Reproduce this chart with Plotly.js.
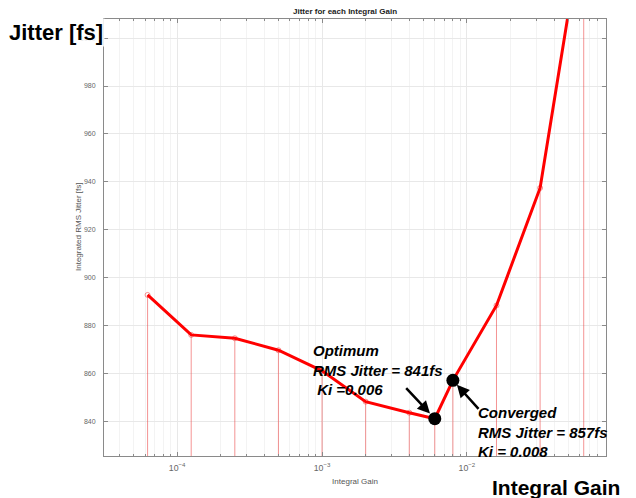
<!DOCTYPE html>
<html>
<head>
<meta charset="utf-8">
<script src="https://cdn.plot.ly/plotly-3.0.1.min.js"></script>
<style>html,body{margin:0;padding:0;background:#fff;}#chart{width:636px;height:498px;}</style>
</head>
<body>
<div id="chart"></div>
<script>
// ---- data ----
var integralGain = [6.25e-5, 1.25e-4, 2.5e-4, 5e-4, 1e-3, 2e-3, 4e-3, 6e-3, 8e-3, 0.016, 0.032, 0.064];
var rmsJitter    = [892.7, 876.0, 874.6, 869.6, 861.0, 848.1, 843.5, 841.0, 857.0, 888.3, 937.4, 1050.0];
var stemBaseline = 0;
var optimumKi = 0.006, optimumJitter = 841;
var convergedKi = 0.008, convergedJitter = 857;
var yTickVals = [840, 860, 880, 900, 920, 940, 960, 980, 1000];

// stems built from data
var stemX = [], stemY = [];
integralGain.forEach(function (k, i) {
  stemX.push(k, k, null);
  stemY.push(stemBaseline, rmsJitter[i], null);
});

var FONT = 'Liberation Sans, Arial, sans-serif';

var traces = [
  { x: stemX, y: stemY, mode: 'lines', type: 'scatter',
    line: { color: 'rgba(235,60,60,0.55)', width: 1 }, hoverinfo: 'skip', showlegend: false },
  { x: integralGain, y: rmsJitter, mode: 'markers', type: 'scatter',
    marker: { symbol: 'circle-open', size: 5, color: 'rgba(235,60,60,0.55)', line: { width: 1 } },
    showlegend: false },
  { x: integralGain, y: rmsJitter, mode: 'lines', type: 'scatter',
    line: { color: '#ff0000', width: 3 }, showlegend: false },
  { x: [optimumKi, convergedKi], y: [optimumJitter, convergedJitter], mode: 'markers', type: 'scatter',
    marker: { color: '#000', size: 13 }, showlegend: false, cliponaxis: false }
];

var axisCommon = {
  showline: true, linecolor: '#8a8a8a', linewidth: 1, mirror: 'ticks',
  ticks: 'inside', ticklen: 4, tickcolor: '#8a8a8a',
  tickfont: { family: FONT, size: 7, color: '#666' },
  gridcolor: '#e8e8e8', gridwidth: 1, zeroline: false
};

var layout = {
  width: 636, height: 498,
  margin: { l: 104, r: 30, t: 19, b: 42 },
  paper_bgcolor: '#fff', plot_bgcolor: '#fff',
  title: { text: '<b>Jitter for each Integral Gain</b>', font: { family: FONT, size: 8, color: '#222' },
           x: 0.5425, xanchor: 'center', xref: 'container', y: 0.978, yanchor: 'middle', yref: 'container' },
  xaxis: Object.assign({}, axisCommon, {
    type: 'log', range: [-4.505, -1.04], dtick: 1, exponentformat: 'power', showexponent: 'all',
    ticklabelstandoff: 4,
    minor: { ticks: 'inside', ticklen: 2, tickcolor: '#8a8a8a', showgrid: true, gridcolor: '#f3f3f3' },
    title: { text: 'Integral Gain', font: { family: FONT, size: 8, color: '#555' }, standoff: 6 }
  }),
  yaxis: Object.assign({}, axisCommon, {
    range: [825.4, 1008], tickvals: yTickVals, ticklabelstandoff: 6
  }),
  annotations: [
    { xref: 'paper', yref: 'paper', x: -0.0518, y: 0.524, xanchor: 'center', yanchor: 'middle',
      textangle: -90, text: 'Integrated RMS Jitter [fs]', showarrow: false,
      font: { family: FONT, size: 8, color: '#555' } },
    { xref: 'paper', yref: 'paper', x: -0.193, y: 0.968, xanchor: 'left', yanchor: 'middle',
      text: '<b>Jitter [fs]</b>', showarrow: false, bgcolor: 'rgba(255,255,255,0.85)',
      font: { family: FONT, size: 22, color: '#000' } },
    { xref: 'paper', yref: 'paper', x: 0.769, y: -0.071, xanchor: 'left', yanchor: 'middle',
      text: '<b>Integral Gain</b>', showarrow: false,
      font: { family: FONT, size: 21, color: '#000' } },
    { xref: 'paper', yref: 'paper', x: 0.412, y: 0.197, xanchor: 'left', yanchor: 'middle', align: 'left',
      text: '<b><i>Optimum<br>RMS Jitter = ' + optimumJitter + 'fs<br>&nbsp;Ki =' + optimumKi + '</i></b>',
      showarrow: false, font: { family: FONT, size: 15, color: '#000' } },
    { xref: 'paper', yref: 'paper', x: 0.741, y: 0.0556, xanchor: 'left', yanchor: 'middle', align: 'left',
      text: '<b><i>Converged<br>RMS Jitter = ' + convergedJitter + 'fs<br>Ki = ' + convergedKi + '</i></b>',
      showarrow: false, font: { family: FONT, size: 15, color: '#000' } },
    { xref: 'x', yref: 'y', x: Math.log10(optimumKi), y: optimumJitter, ax: -30, ay: -32,
      text: '', showarrow: true, arrowhead: 2, arrowsize: 1, arrowwidth: 2.5, arrowcolor: '#000', standoff: 7 },
    { xref: 'x', yref: 'y', x: Math.log10(convergedKi), y: convergedJitter, ax: 27, ay: 30,
      text: '', showarrow: true, arrowhead: 2, arrowsize: 1, arrowwidth: 2.5, arrowcolor: '#000', standoff: 6 }
  ]
};

Plotly.newPlot('chart', traces, layout, { displayModeBar: false, staticPlot: true });
</script>
</body>
</html>
